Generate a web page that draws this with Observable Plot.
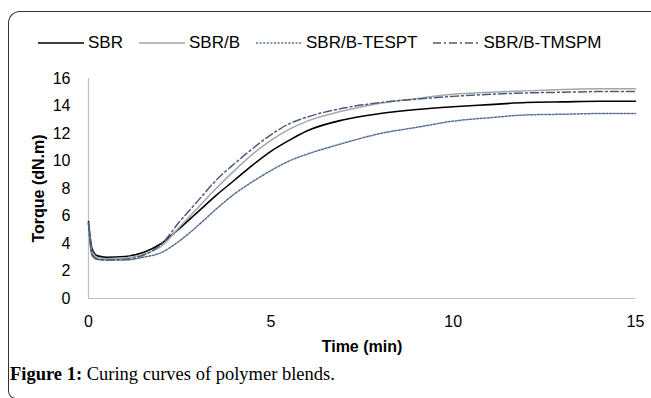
<!DOCTYPE html>
<html>
<head>
<meta charset="utf-8">
<script src="https://cdn.jsdelivr.net/npm/d3@7"></script>
<script src="https://cdn.jsdelivr.net/npm/@observablehq/plot@0.6"></script>
<style>
  html, body { margin: 0; padding: 0; background: #fff; }
  #wrap { position: relative; width: 651px; height: 398px; overflow: hidden; background: #fff; font-family: "Liberation Sans", Arial, sans-serif; }
  #frame { position: absolute; left: 8px; top: 11px; width: 700px; height: 388px; border-left: 1.3px solid #333; border-top: 1.3px solid #333; border-bottom: 1.3px solid #333; border-top-left-radius: 12px; border-bottom-left-radius: 8px; box-sizing: border-box; }
  #chart { position: absolute; left: 0; top: 0; }
  #legend { position: absolute; left: 38px; top: 33px; display: flex; align-items: center; font-size: 17px; color: #000; white-space: nowrap; }
  #legend .item { display: flex; align-items: center; margin-right: 16px; }
  #legend svg { margin-right: 4px; }
  #caption { position: absolute; left: 10px; top: 364px; font-family: "Liberation Serif", "Times New Roman", serif; font-size: 18.5px; color: #000; white-space: nowrap; }
  #chart svg [aria-label="x-axis label"] text, #chart svg [aria-label="y-axis label"] text { font-weight: bold; }
</style>
</head>
<body>
<div id="wrap">
  <div id="frame"></div>
  <div id="chart"></div>
  <div id="legend"></div>
  <div id="caption"><b>Figure 1:</b> Curing curves of polymer blends.</div>
</div>
<script>
// Data
const time   = [0, 0.1, 0.25, 0.5, 1, 1.5, 2, 2.5, 3, 3.5, 4, 4.5, 5, 5.5, 6, 7, 8, 9, 10, 11, 12, 13, 14, 15];
const sbr    = [5.6, 3.6, 3.1, 3.0, 3.05, 3.35, 4.0, 5.1, 6.3, 7.5, 8.6, 9.7, 10.7, 11.5, 12.2, 13.0, 13.45, 13.75, 13.95, 14.1, 14.25, 14.3, 14.35, 14.35];
const sbrB   = [5.5, 3.3, 2.95, 2.9, 2.95, 3.2, 3.8, 5.2, 6.6, 8.0, 9.3, 10.5, 11.5, 12.3, 12.9, 13.65, 14.2, 14.55, 14.85, 15.0, 15.1, 15.2, 15.25, 15.25];
const tespt  = [5.4, 3.1, 2.85, 2.8, 2.8, 3.0, 3.35, 4.2, 5.3, 6.5, 7.6, 8.5, 9.3, 10.0, 10.5, 11.3, 12.0, 12.45, 12.9, 13.15, 13.35, 13.4, 13.45, 13.45];
const tmspm  = [5.5, 3.2, 2.85, 2.8, 2.85, 3.15, 3.95, 5.6, 7.1, 8.6, 9.8, 10.9, 11.9, 12.7, 13.2, 13.85, 14.25, 14.5, 14.7, 14.85, 14.95, 15.0, 15.05, 15.05];
const seriesNames = ["SBR", "SBR/B", "SBR/B-TESPT", "SBR/B-TMSPM"];
const xTicks = [0, 5, 10, 15];
const yTicks = [0, 2, 4, 6, 8, 10, 12, 14, 16];

const styles = {
  "SBR":         {stroke: "#000000", strokeWidth: 1.6, dash: null},
  "SBR/B":       {stroke: "#a6a6a6", strokeWidth: 1.5, dash: null},
  "SBR/B-TESPT": {stroke: "#5a7196", strokeWidth: 1.5, dash: "2,1.6"},
  "SBR/B-TMSPM": {stroke: "#4a5b78", strokeWidth: 1.5, dash: "8,3,2,3"}
};

const values = [sbr, sbrB, tespt, tmspm];
const table = [];
seriesNames.forEach((name, i) => {
  time.forEach((t, j) => table.push({series: name, time: t, torque: values[i][j]}));
});

const lineMarks = seriesNames.map(name => Plot.line(table.filter(d => d.series === name), {
  x: "time", y: "torque", curve: "monotone-x",
  stroke: styles[name].stroke, strokeWidth: styles[name].strokeWidth,
  strokeDasharray: styles[name].dash || undefined
}));

const chart = Plot.plot({
  width: 651,
  height: 360,
  marginLeft: 88,
  marginRight: 16,
  marginTop: 78,
  marginBottom: 62,
  style: {fontFamily: "'Liberation Sans', Arial, sans-serif", fontSize: "16px", color: "#000", background: "transparent"},
  x: {domain: [0, 15], ticks: xTicks, tickSize: 0, tickPadding: 17, label: "Time (min)", labelAnchor: "center", labelOffset: 53, labelArrow: "none"},
  y: {domain: [0, 16], ticks: yTicks, tickSize: 0, tickPadding: 18, label: "Torque (dN.m)", labelAnchor: "center", labelOffset: 56, labelArrow: "none"},
  marks: [
    Plot.ruleX([0], {stroke: "#bfbfbf", strokeWidth: 1.2}),
    Plot.ruleY([0], {stroke: "#bfbfbf", strokeWidth: 1.2}),
    ...lineMarks
  ]
});
document.getElementById("chart").appendChild(chart);

// Legend
const legend = document.getElementById("legend");
seriesNames.forEach(name => {
  const s = styles[name];
  const item = document.createElement("div");
  item.className = "item";
  item.innerHTML = `<svg width="46" height="10"><line x1="0" y1="5" x2="46" y2="5" stroke="${s.stroke}" stroke-width="${s.strokeWidth}" ${s.dash ? `stroke-dasharray="${s.dash}"` : ""}/></svg><span>${name}</span>`;
  legend.appendChild(item);
});
</script>
</body>
</html>
